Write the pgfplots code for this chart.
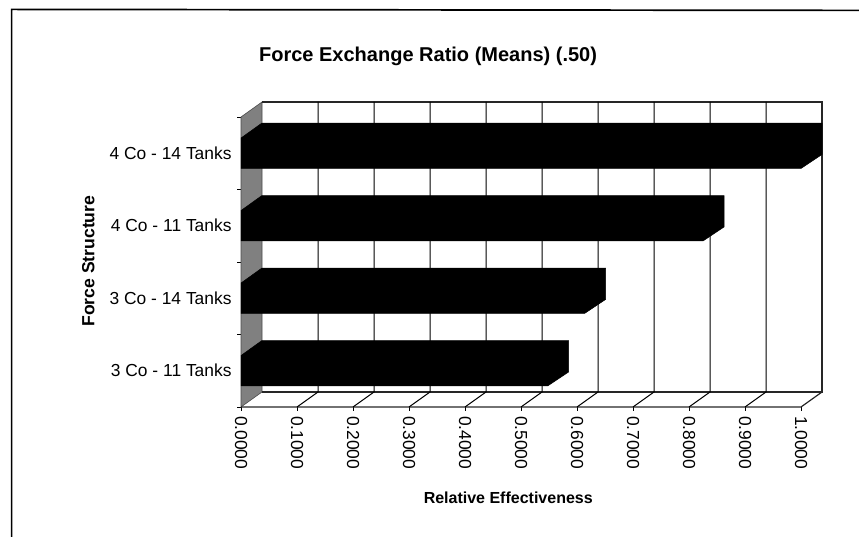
\documentclass[border=0pt]{standalone}
\usepackage{pgfplots}
\pgfplotsset{compat=1.18}
\usepackage{fontspec}
\setmainfont{Liberation Sans}
% depth of the 3D box: dx=0.0375, dy=0.207
\begin{document}
\begin{tikzpicture}
\path[use as bounding box] (0,0) rectangle (859bp,537bp);
\draw[line width=1.7bp,black] (11.6bp,0) -- (11.6bp,527.6bp) -- (859bp,526.6bp);
\begin{axis}[
    at={(241bp,130bp)},anchor=south west,
    scale only axis,
    width=581bp,height=305bp,
    xmin=0,xmax=1.0375,ymin=0,ymax=4.207,
    clip=false,
    axis x line*=bottom,axis y line*=left,
    axis line style={draw=none},
    tick align=outside,
    major tick length=4bp,
    minor tick length=4bp,
    tick style={black,line width=0.8bp},
    major y tick style={draw=none},
    xtick={0,0.1,0.2,0.3,0.4,0.5,0.6,0.7,0.8,0.9,1},
    scaled x ticks=false,
    ytick={0.5,1.5,2.5,3.5},
    minor ytick={0,1,2,3,4},
    yticklabels={3 Co - 11 Tanks,3 Co - 14 Tanks,4 Co - 11 Tanks,4 Co - 14 Tanks},
    tick label style={font=\fontsize{17.4bp}{20bp}\selectfont},
    yticklabel style={xshift=-2bp},
    xticklabel style={
        rotate=-90,anchor=west,xshift=1.5bp,
        /pgf/number format/assume math mode=true,
        /pgf/number format/fixed,
        /pgf/number format/fixed zerofill,
        /pgf/number format/precision=4
    },
    title={\bfseries Force Exchange Ratio (Means) (.50)},
    title style={at={(axis description cs:0.322,1.131)},anchor=center,
        font=\fontsize{20bp}{23bp}\selectfont},
    xlabel={\bfseries Relative Effectiveness},
    xlabel style={at={(axis description cs:0.46,-0.296)},anchor=center,
        font=\fontsize{16bp}{19bp}\selectfont},
    ylabel={\bfseries Force Structure},
    ylabel style={at={(axis description cs:-0.263,0.478)},anchor=center,rotate=0,
        font=\fontsize{17.6bp}{20bp}\selectfont},
    unbounded coords=jump,
]
% left wall
\addplot[draw=black!70,fill=black!50,line width=0.6bp] coordinates
    {(0,0) (0.0375,0.207) (0.0375,4.207) (0,4)} --cycle;
% back wall and floor outline
\addplot[black!85,line width=1.2bp] coordinates
    {(0.0375,4.207) (1.0375,4.207) (1.0375,0.207) (0.0375,0.207)};
\addplot[black!85,line width=1.2bp] coordinates
    {(0,0) (1,0) (1.0375,0.207)};
% grid lines on back wall and floor
\addplot[black,line width=1bp] table {
x y
0.1375 4.207
0.1375 0.207
0.1 0
nan nan
0.2375 4.207
0.2375 0.207
0.2 0
nan nan
0.3375 4.207
0.3375 0.207
0.3 0
nan nan
0.4375 4.207
0.4375 0.207
0.4 0
nan nan
0.5375 4.207
0.5375 0.207
0.5 0
nan nan
0.6375 4.207
0.6375 0.207
0.6 0
nan nan
0.7375 4.207
0.7375 0.207
0.7 0
nan nan
0.8375 4.207
0.8375 0.207
0.8 0
nan nan
0.9375 4.207
0.9375 0.207
0.9 0
};
% bars: front value v, back end v+0.0375
\addplot[fill=black,draw=black,line width=0.5bp] coordinates
    {(0,0.29) (0,0.71) (0.0375,0.917) (0.585,0.917) (0.585,0.483) (0.5475,0.29)} --cycle;
\addplot[fill=black,draw=black,line width=0.5bp] coordinates
    {(0,1.29) (0,1.71) (0.0375,1.917) (0.651,1.917) (0.651,1.483) (0.6135,1.29)} --cycle;
\addplot[fill=black,draw=black,line width=0.5bp] coordinates
    {(0,2.29) (0,2.71) (0.0375,2.917) (0.8625,2.917) (0.8625,2.483) (0.825,2.29)} --cycle;
\addplot[fill=black,draw=black,line width=0.5bp] coordinates
    {(0,3.29) (0,3.71) (0.0375,3.917) (1.0375,3.917) (1.0375,3.483) (1,3.29)} --cycle;
\end{axis}
\end{tikzpicture}
\end{document}
